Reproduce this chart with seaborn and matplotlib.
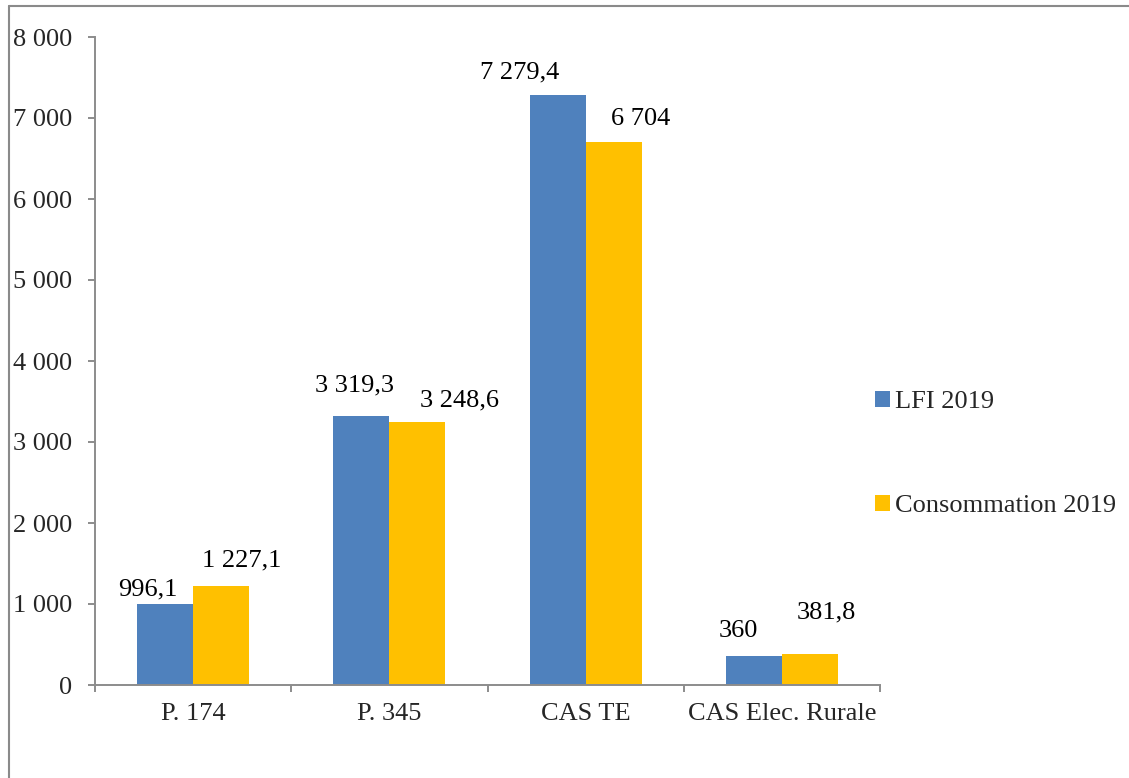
import pandas as pd
import matplotlib
matplotlib.use("Agg")
import matplotlib.pyplot as plt
import seaborn as sns
from matplotlib.ticker import FuncFormatter, FixedLocator
from matplotlib.lines import Line2D

# Données
categories = ["P. 174", "P. 345", "CAS TE", "CAS Elec. Rurale"]
lfi_2019 = [996.1, 3319.3, 7279.4, 360]
conso_2019 = [1227.1, 3248.6, 6704, 381.8]
series = ["LFI 2019", "Consommation 2019"]
couleurs = ["#4F81BD", "#FFC000"]

# décalages des étiquettes (px) comme dans Excel
decalages = [
    [(-17, 9), (-7, 25), (-38, 17), (-15, 19)],
    [(21, 19), (42, 15), (27, 17), (16, 36)],
]


def fmt_fr(v, decimales=True):
    if decimales and v != int(v):
        s = f"{v:,.1f}"
    else:
        s = f"{int(v):,}"
    return s.replace(",", " ").replace(".", ",")


df = pd.DataFrame({
    "Categorie": categories * 2,
    "Valeur": lfi_2019 + conso_2019,
    "Serie": [series[0]] * 4 + [series[1]] * 4,
})

sns.set_style("white")
plt.rcParams["font.family"] = ["Liberation Serif", "DejaVu Serif"]
taille = 19

fig = plt.figure(figsize=(11.29, 7.78), dpi=100)
ax = fig.add_axes([95 / 1129, 1 - 685 / 778, 785 / 1129, 648 / 778])

sns.barplot(data=df, x="Categorie", y="Valeur", hue="Serie", palette=couleurs,
            width=0.571, saturation=1, dodge=True, errorbar=None, ax=ax,
            linewidth=0, edgecolor="none")

ax.set_xlim(-0.5, 3.5)
ax.set_ylim(0, 8000)
ax.set_yticks(range(0, 8001, 1000))
ax.yaxis.set_major_formatter(FuncFormatter(lambda v, p: fmt_fr(v, False)))
ax.set_xlabel("")
ax.set_ylabel("")

gris = "#8c8c8c"
for s in ["top", "right"]:
    ax.spines[s].set_visible(False)
for s in ["left", "bottom"]:
    ax.spines[s].set_color(gris)
    ax.spines[s].set_linewidth(1.4)

ax.tick_params(axis="y", direction="out", length=5, width=1.4, color=gris,
               pad=11.5, labelsize=taille, left=True)
ax.tick_params(axis="x", which="major", length=0, pad=13, labelsize=taille)
ax.xaxis.set_minor_locator(FixedLocator([-0.5, 0.5, 1.5, 2.5, 3.5]))
ax.tick_params(axis="x", which="minor", direction="out", length=5, width=1.4,
               color=gris, bottom=True)

# étiquettes de données
for i, cont in enumerate(ax.containers):
    for j, barre in enumerate(cont):
        v = barre.get_height()
        dx, dy = decalages[i][j]
        ax.annotate(fmt_fr(v), (barre.get_x() + barre.get_width() / 2, v),
                    xytext=(dx * 0.72, dy * 0.72), textcoords="offset points",
                    ha="center", va="baseline", fontsize=taille, color="black")

# légende à droite
poignees, libelles = ax.get_legend_handles_labels()
ax.get_legend().remove()
fig.legend(poignees, libelles, loc="center left",
           bbox_to_anchor=(875 / 1129, 1 - 454 / 778), frameon=False,
           fontsize=taille, borderpad=0, borderaxespad=0,
           handlelength=0.55, handleheight=0.55, handletextpad=0.2,
           labelspacing=3.1)

# cadre du graphique
fig.add_artist(Line2D([8.5 / 1129, 8.5 / 1129], [0, 1 - 6 / 778], color="#8a8a8a",
                      lw=1.5, transform=fig.transFigure))
fig.add_artist(Line2D([8.5 / 1129, 1], [1 - 6 / 778, 1 - 6 / 778], color="#8a8a8a",
                      lw=1.5, transform=fig.transFigure))

fig.savefig("out.png", dpi=100)
